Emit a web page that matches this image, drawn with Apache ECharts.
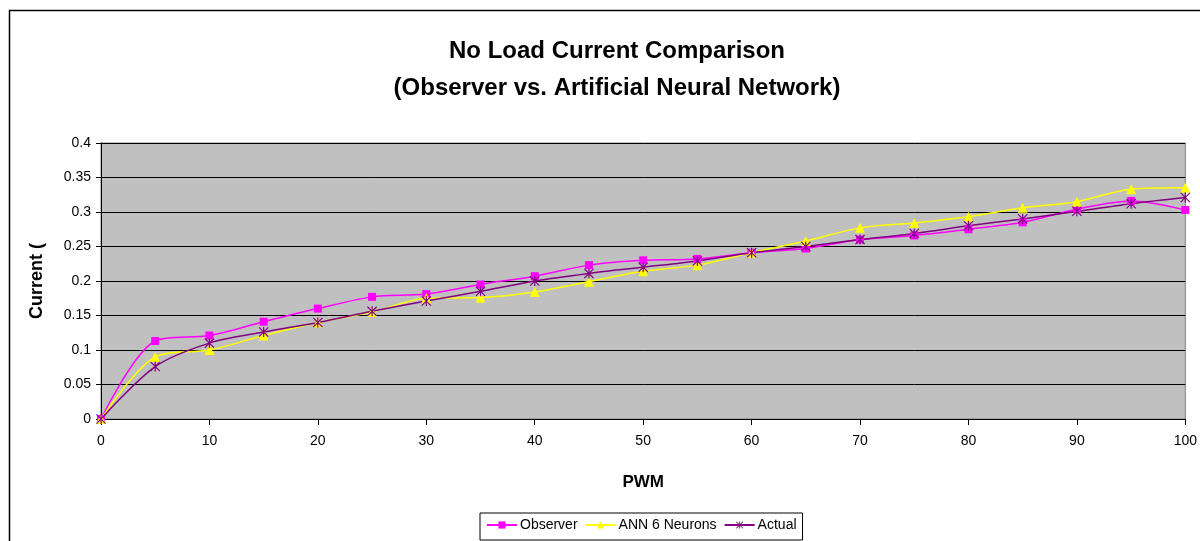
<!DOCTYPE html>
<html>
<head>
<meta charset="utf-8">
<script src="https://cdn.jsdelivr.net/npm/echarts@6/dist/echarts.min.js"></script>
<style>
html,body{margin:0;padding:0;background:#fff;}
#chart{width:1200px;height:541px;}
</style>
</head>
<body>
<div id="chart"></div>
<script>
const pwm = [0,5,10,15,20,25,30,35,40,45,50,55,60,65,70,75,80,85,90,95,100];
const observer = [0,0.113,0.121,0.141,0.16,0.177,0.181,0.195,0.207,0.223,0.23,0.232,0.241,0.247,0.26,0.266,0.275,0.285,0.304,0.316,0.303];
const ann6 = [0,0.09,0.1,0.121,0.14,0.155,0.175,0.176,0.184,0.199,0.214,0.223,0.241,0.258,0.277,0.284,0.293,0.306,0.315,0.333,0.335];
const actual = [0,0.076,0.11,0.126,0.14,0.156,0.171,0.185,0.2,0.211,0.22,0.229,0.241,0.25,0.26,0.269,0.28,0.29,0.301,0.312,0.321];
const seriesNames = ['Observer','ANN 6 Neurons','Actual'];
const yTicks = [0,0.05,0.1,0.15,0.2,0.25,0.3,0.35,0.4];

const pair = (ys) => pwm.map((x,i) => [x, ys[i]]);
const starPath = 'path://M4.4 0 L5.6 0 L5.6 10 L4.4 10 Z M0 0.8 L0.8 0 L10 9.2 L9.2 10 Z M9.2 0 L10 0.8 L0.8 10 L0 9.2 Z';
const font = '"Liberation Sans", Arial, sans-serif';

const chart = echarts.init(document.getElementById('chart'), null, {renderer:'canvas'});
chart.setOption({
  animation: false,
  backgroundColor: '#ffffff',
  textStyle: {fontFamily: font, color: '#000'},
  title: {
    text: 'No Load Current Comparison\n(Observer vs. Artificial Neural Network)',
    left: 612, top: 28, textAlign: 'center',
    textStyle: {fontFamily: font, fontSize: 24, fontWeight: 'bold', color: '#000', lineHeight: 37}
  },
  graphic: [{
    type: 'rect', silent: true, z: -1,
    shape: {x: 9.5, y: 10.5, width: 1300, height: 700},
    style: {fill: 'none', stroke: '#000', lineWidth: 1.5}
  }],
  legend: {
    data: seriesNames,
    left: 480, top: 513,
    orient: 'horizontal',
    borderColor: '#000', borderWidth: 1,
    padding: [5, 6, 8, 6],
    itemGap: 7, itemWidth: 30, itemHeight: 9,
    textStyle: {fontFamily: font, fontSize: 14, color: '#000', padding: [0,0,0,-2]}
  },
  grid: {left: 101, right: 11, top: 143, bottom: 122, show: true, backgroundColor: '#C0C0C0', borderColor: '#808080', borderWidth: 1},
  xAxis: {
    type: 'value', min: 0, max: 100, interval: 10,
    axisLine: {show: true, lineStyle: {color: '#000', width: 1}},
    axisTick: {show: true, length: 6, lineStyle: {color: '#000'}},
    splitLine: {show: false},
    axisLabel: {fontFamily: font, fontSize: 14, color: '#000', margin: 15},
    name: 'PWM', nameLocation: 'middle', nameGap: 55,
    nameTextStyle: {fontFamily: font, fontSize: 17, fontWeight: 'bold', color: '#000'}
  },
  yAxis: {
    type: 'value', min: 0, max: 0.4, interval: 0.05,
    axisLine: {show: true, lineStyle: {color: '#000', width: 1}},
    axisTick: {show: true, length: 5, lineStyle: {color: '#000'}},
    splitLine: {show: true, lineStyle: {color: '#000', width: 1}},
    axisLabel: {fontFamily: font, fontSize: 14, color: '#000', margin: 10,
      formatter: (v) => { const t = yTicks.find(k => Math.abs(k - v) < 1e-9); return String(t !== undefined ? t : v); }},
    name: 'Current (', nameLocation: 'middle', nameGap: 55, nameRotate: 90,
    nameTextStyle: {fontFamily: font, fontSize: 18, fontWeight: 'bold', color: '#000'}
  },
  series: [
    {name: seriesNames[0], type: 'line', data: pair(observer), smooth: 0.3,
     symbol: 'rect', symbolSize: 8, color: '#FF00FF',
     lineStyle: {color: '#FF00FF', width: 1.5}, itemStyle: {color: '#FF00FF'}},
    {name: seriesNames[1], type: 'line', data: pair(ann6), smooth: 0.3,
     symbol: 'triangle', symbolSize: 10, color: '#FFFF00',
     lineStyle: {color: '#FFFF00', width: 1.5}, itemStyle: {color: '#FFFF00'}},
    {name: seriesNames[2], type: 'line', data: pair(actual), smooth: 0.3,
     symbol: starPath, symbolSize: 10, color: '#800080',
     lineStyle: {color: '#800080', width: 1.5}, itemStyle: {color: '#800080'}}
  ]
});
</script>
</body>
</html>
